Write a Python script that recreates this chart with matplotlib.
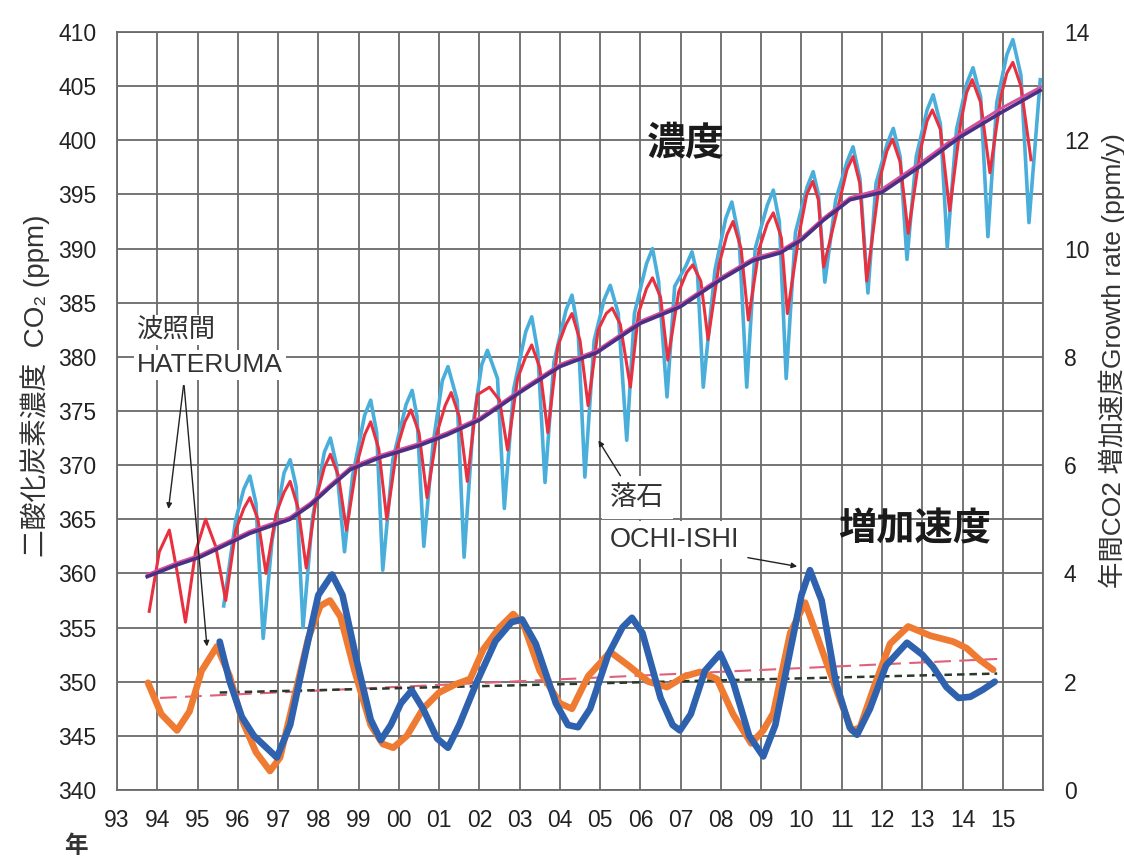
import matplotlib
matplotlib.use("Agg")
import matplotlib.pyplot as plt

plt.rcParams['font.family'] = ['Liberation Sans', 'Noto Sans CJK JP', 'DejaVu Sans']

# ---------------- data ----------------
# HATERUMA concentration (key points), ppm
hat_t = [1993.80, 1994.05, 1994.30, 1994.50, 1994.70, 1994.95, 1995.20, 1995.45, 1995.70, 1995.95,
         1996.15, 1996.30, 1996.50, 1996.70, 1996.95, 1997.15, 1997.30, 1997.50, 1997.70, 1997.95,
         1998.15, 1998.30, 1998.50, 1998.70, 1998.95, 1999.15, 1999.30, 1999.50, 1999.70, 1999.95,
         2000.15, 2000.30, 2000.50, 2000.70, 2000.95, 2001.15, 2001.30, 2001.50, 2001.70, 2001.95,
         2002.25, 2002.50, 2002.70, 2002.95, 2003.15, 2003.30, 2003.50, 2003.70, 2003.95,
         2004.15, 2004.30, 2004.50, 2004.70, 2004.95, 2005.15, 2005.30, 2005.50, 2005.75, 2005.95,
         2006.15, 2006.30, 2006.50, 2006.68, 2006.95, 2007.15, 2007.30, 2007.50, 2007.68, 2007.95,
         2008.15, 2008.30, 2008.50, 2008.68, 2008.95, 2009.15, 2009.30, 2009.50, 2009.65, 2009.95,
         2010.13, 2010.28, 2010.42, 2010.55, 2010.95, 2011.13, 2011.28, 2011.45, 2011.62, 2011.95,
         2012.12, 2012.26, 2012.45, 2012.65, 2012.95, 2013.12, 2013.25, 2013.45, 2013.68, 2013.95,
         2014.10, 2014.24, 2014.45, 2014.68, 2014.95, 2015.10, 2015.25, 2015.45, 2015.70]
hat_c = [356.5, 362.0, 364.0, 360.0, 355.5, 362.0, 365.0, 362.5, 357.5, 364.0,
         366.0, 367.0, 365.0, 360.0, 365.5, 367.5, 368.5, 366.0, 360.5, 367.0,
         369.8, 371.0, 369.0, 364.0, 370.0, 372.8, 374.0, 371.5, 365.0, 371.5,
         374.0, 375.1, 373.0, 367.0, 373.0, 375.5, 376.7, 374.5, 368.5, 376.5,
         377.2, 376.0, 371.4, 378.0, 380.0, 381.1, 379.0, 373.0, 381.0,
         383.0, 384.0, 381.5, 375.5, 382.5, 384.0, 384.5, 383.0, 377.2, 384.0,
         386.3, 387.3, 385.5, 379.7, 386.0, 387.8, 388.5, 387.0, 381.6, 388.5,
         391.3, 392.5, 390.0, 383.4, 390.0, 392.3, 393.3, 391.0, 384.0, 391.5,
         395.0, 396.2, 394.5, 388.3, 394.5, 397.3, 398.5, 396.0, 387.0, 396.5,
         399.0, 400.1, 398.0, 391.4, 399.0, 401.8, 402.8, 401.0, 393.5, 401.5,
         404.4, 405.6, 403.5, 397.0, 404.0, 406.2, 407.2, 405.0, 398.2]

# OCHI-ISHI concentration key points, ppm
och_t = [1995.65, 1995.95, 1996.15, 1996.30, 1996.45, 1996.63, 1996.85, 1997.15, 1997.30, 1997.45, 1997.62, 1997.85,
         1998.15, 1998.30, 1998.45, 1998.65, 1998.85, 1999.15, 1999.30, 1999.45, 1999.60, 1999.85,
         2000.18, 2000.33, 2000.45, 2000.62, 2000.85, 2001.08, 2001.22, 2001.45, 2001.62, 2001.85,
         2002.06, 2002.20, 2002.45, 2002.62, 2002.85, 2003.15, 2003.30, 2003.45, 2003.63, 2003.85,
         2004.15, 2004.30, 2004.45, 2004.62, 2004.85, 2005.10, 2005.25, 2005.45, 2005.66, 2005.85,
         2006.15, 2006.30, 2006.45, 2006.66, 2006.85, 2007.13, 2007.28, 2007.42, 2007.56, 2007.85,
         2008.12, 2008.27, 2008.45, 2008.64, 2008.85, 2009.15, 2009.30, 2009.45, 2009.62, 2009.85,
         2010.14, 2010.29, 2010.42, 2010.58, 2010.85, 2011.13, 2011.28, 2011.45, 2011.65, 2011.85,
         2012.13, 2012.28, 2012.45, 2012.62, 2012.85, 2013.12, 2013.27, 2013.45, 2013.62, 2013.85,
         2014.11, 2014.26, 2014.45, 2014.63, 2014.85, 2015.10, 2015.25, 2015.45, 2015.65, 2015.93]
och_c = [357.0, 365.0, 367.8, 369.0, 366.5, 354.0, 363.0, 369.3, 370.5, 368.0, 355.0, 365.0,
         371.2, 372.5, 370.0, 362.0, 369.0, 374.6, 376.0, 373.0, 360.3, 370.5,
         375.6, 376.9, 374.5, 362.5, 372.0, 377.8, 379.1, 376.0, 361.5, 374.0,
         379.3, 380.6, 378.0, 366.0, 377.0, 382.3, 383.7, 380.5, 368.4, 379.5,
         384.3, 385.7, 382.5, 368.9, 381.5, 385.3, 386.6, 384.0, 372.3, 384.0,
         388.6, 390.0, 387.0, 376.3, 386.5, 388.4, 389.7, 387.5, 377.2, 388.0,
         392.8, 394.3, 391.0, 377.2, 390.0, 394.0, 395.4, 392.5, 378.0, 391.5,
         395.7, 397.1, 395.0, 386.9, 394.5, 398.0, 399.4, 396.5, 385.9, 396.0,
         399.7, 401.1, 398.5, 389.0, 398.5, 402.8, 404.2, 401.5, 390.1, 401.0,
         405.3, 406.7, 404.0, 391.1, 403.5, 407.9, 409.3, 406.0, 392.4, 405.6]

# deseasonalized trends, ppm
trend_t = [1993.75, 1994.50, 1995.06, 1996.30, 1997.30, 1997.80, 1998.30, 1998.80, 1999.53,
           2000.50, 2001.20, 2002.02, 2003.00, 2004.00, 2004.92, 2006.00, 2006.98, 2007.98,
           2008.80, 2009.47, 2010.00, 2010.54, 2011.20, 2012.00, 2012.95, 2013.94, 2014.93, 2015.93]
trend_c = [359.7, 360.8, 361.5, 363.7, 365.0, 366.3, 368.0, 369.6, 370.7,
           371.8, 372.8, 374.2, 376.7, 379.1, 380.4, 383.1, 384.6, 387.1,
           388.9, 389.6, 390.8, 392.6, 394.5, 395.2, 397.6, 400.3, 402.5, 404.6]
trend2_c = [359.9, 361.0, 361.7, 363.9, 365.2, 366.5, 368.2, 369.8, 370.9,
            372.0, 373.0, 374.4, 376.9, 379.3, 380.6, 383.3, 384.8, 387.3,
            389.1, 389.8, 391.0, 392.8, 394.7, 395.5, 397.9, 400.6, 402.9, 404.9]

# growth rates, ppm/y
hgr_t = [1993.77, 1994.10, 1994.49, 1994.80, 1995.10, 1995.48, 1995.80, 1996.10, 1996.45, 1996.80,
         1997.05, 1997.40, 1997.75, 1998.05, 1998.29, 1998.55, 1998.90, 1999.30, 1999.60, 1999.86,
         2000.20, 2000.60, 2001.00, 2001.40, 2001.77, 2002.10, 2002.50, 2002.84, 2003.10, 2003.50,
         2004.00, 2004.30, 2004.70, 2005.25, 2005.70, 2006.20, 2006.66, 2007.10, 2007.48, 2007.90,
         2008.30, 2008.75, 2009.05, 2009.30, 2009.72, 2010.09, 2010.55, 2010.96, 2011.25, 2011.45,
         2011.80, 2012.20, 2012.65, 2013.20, 2013.77, 2014.10, 2014.43, 2014.76]
hgr_v = [1.98, 1.40, 1.10, 1.45, 2.20, 2.65, 2.10, 1.30, 0.70, 0.35,
         0.60, 1.70, 2.80, 3.40, 3.50, 3.20, 2.20, 1.20, 0.85, 0.78,
         1.00, 1.50, 1.80, 1.95, 2.05, 2.60, 3.00, 3.25, 3.05, 2.20,
         1.60, 1.50, 2.10, 2.55, 2.30, 2.00, 1.90, 2.10, 2.18, 2.05,
         1.40, 0.86, 1.10, 1.42, 2.90, 3.46, 2.50, 1.66, 1.10, 1.15,
         1.90, 2.70, 3.02, 2.85, 2.74, 2.62, 2.40, 2.22]

ogr_t = [1995.55, 1995.80, 1996.10, 1996.40, 1996.97, 1997.30, 1997.70, 1998.00, 1998.34, 1998.60,
         1998.95, 1999.30, 1999.55, 1999.80, 2000.05, 2000.32, 2000.60, 2000.95, 2001.22, 2001.50,
         2001.94, 2002.40, 2002.80, 2003.06, 2003.40, 2003.90, 2004.20, 2004.45, 2004.75, 2005.20,
         2005.55, 2005.79, 2006.05, 2006.50, 2006.80, 2006.98, 2007.25, 2007.60, 2007.98, 2008.30,
         2008.70, 2009.05, 2009.35, 2009.70, 2010.00, 2010.21, 2010.50, 2010.85, 2011.20, 2011.38,
         2011.70, 2012.10, 2012.62, 2013.00, 2013.27, 2013.60, 2013.90, 2014.19, 2014.50, 2014.80]
ogr_v = [2.74, 2.00, 1.35, 1.00, 0.60, 1.20, 2.60, 3.60, 3.98, 3.60,
         2.40, 1.30, 0.92, 1.20, 1.60, 1.84, 1.50, 0.95, 0.78, 1.20,
         2.00, 2.75, 3.10, 3.15, 2.70, 1.60, 1.20, 1.16, 1.50, 2.50,
         3.00, 3.18, 2.90, 1.70, 1.20, 1.10, 1.40, 2.20, 2.52, 2.00,
         1.00, 0.62, 1.20, 2.50, 3.60, 4.06, 3.50, 2.00, 1.15, 1.02,
         1.50, 2.30, 2.72, 2.50, 2.27, 1.90, 1.70, 1.72, 1.85, 2.00]

# linear trends of growth rate
hfit_t = [1994.07, 2014.86]
hfit_v = [1.70, 2.42]
ofit_t = [1995.55, 2014.86]
ofit_v = [1.80, 2.15]

years = list(range(1993, 2017))
year_labels = [f"{y % 100:02d}" for y in range(1993, 2016)] + [""]
left_ticks = list(range(340, 411, 5))
right_ticks = list(range(0, 15, 2))

# ---------------- figure ----------------
fig = plt.figure(figsize=(11.24, 8.61), dpi=100)
ax = fig.add_axes([0.1041, 0.0825, 0.8239, 0.8803])
ax.set_xlim(1993, 2016)
ax.set_ylim(340, 410)
ax.set_xticks(years)
ax.set_xticklabels(year_labels)
ax.set_yticks(left_ticks)
ax.grid(True, color='#6a6a6a', linewidth=1.3)
ax.set_axisbelow(True)
for s in ax.spines.values():
    s.set_color('#6a6a6a')
    s.set_linewidth(1.3)
ax.tick_params(axis='both', length=0, labelsize=16.5, labelcolor='#222222')
ax.tick_params(axis='y', pad=15)
ax.tick_params(axis='x', pad=14)

ax.plot(och_t, och_c, color='#4aaedb', linewidth=2.6, zorder=3)
ax.plot(hat_t, hat_c, color='#e8303f', linewidth=2.2, zorder=4)
ax.plot(trend_t, trend2_c, color='#d8509a', linewidth=2.0, zorder=5)
ax.plot(trend_t, trend_c, color='#4a2f85', linewidth=2.6, zorder=6)

ax2 = ax.twinx()
ax2.set_ylim(0, 14)
ax2.set_yticks(right_ticks)
ax2.tick_params(axis='y', length=0, labelsize=16.5, labelcolor='#222222', pad=15)
for s in ax2.spines.values():
    s.set_visible(False)
ax2.plot(hfit_t, hfit_v, color='#e0607a', linewidth=1.5, linestyle=(0, (8, 4)), zorder=2)
ax2.plot(ofit_t, ofit_v, color='#2a3a2a', linewidth=1.8, linestyle=(0, (3, 2)), zorder=2)
ax2.plot(hgr_t, hgr_v, color='#ef7b32', linewidth=4.8, solid_capstyle='round', zorder=3)
ax2.plot(ogr_t, ogr_v, color='#2f62ae', linewidth=4.8, solid_capstyle='round', zorder=4)

# big labels
ax.text(2006.15, 399.6, '濃度', fontsize=28, fontweight='bold', color='#1a1a1a',
        ha='left', va='center', zorder=10)
ax.text(2010.9, 364.0, '増加速度', fontsize=27.5, fontweight='bold', color='#1a1a1a',
        ha='left', va='center', zorder=10)

# station annotations
white = dict(facecolor='white', edgecolor='none', pad=2)
ax.text(1993.50, 382.5, '波照間', fontsize=19, color='#333333', ha='left', va='center',
        zorder=10, bbox=white)
ax.text(1993.50, 379.25, 'HATERUMA', fontsize=19, color='#333333', ha='left', va='center',
        zorder=10, bbox=white)
arrow_kw = dict(arrowstyle='-|>', color='#222222', lw=1.0, mutation_scale=8)
ax.annotate('', xy=(1994.27, 365.7), xytext=(1994.66, 377.6), arrowprops=arrow_kw, zorder=11)
ax.annotate('', xy=(1995.24, 353.0), xytext=(1994.66, 377.6), arrowprops=arrow_kw, zorder=11)

ax.text(2005.25, 367.0, '落石', fontsize=19.5, color='#333333', ha='left', va='center',
        zorder=10, bbox=dict(facecolor='white', edgecolor='none', pad=6))
ax.text(2005.25, 363.1, 'OCHI-ISHI', fontsize=19.5, color='#333333', ha='left', va='center',
        zorder=10, bbox=dict(facecolor='white', edgecolor='none', pad=4))
ax.annotate('', xy=(2004.92, 372.5), xytext=(2005.54, 368.8), arrowprops=arrow_kw, zorder=11)
ax.annotate('', xy=(2009.96, 360.6), xytext=(2008.6, 361.5), arrowprops=arrow_kw, zorder=11)

# axis titles
fig.text(0.031, 0.552, '二酸化炭素濃度  CO₂ (ppm)', rotation=90, fontsize=20, color='#333333',
         ha='center', va='center')
fig.text(0.9893, 0.5807, '年間CO2 増加速度Growth rate (ppm/y)', rotation=90, fontsize=19,
         color='#333333', ha='center', va='center')
fig.text(0.0676, 0.0163, '年', fontsize=17, fontweight='bold', color='#333333',
         ha='center', va='center')

fig.savefig('out.png', dpi=100)
